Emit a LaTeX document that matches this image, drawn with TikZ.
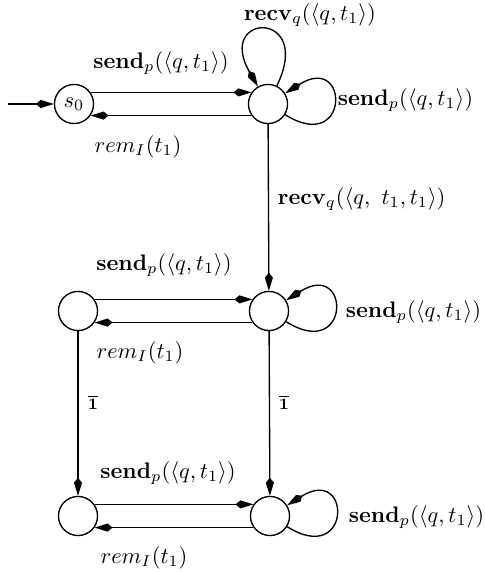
\documentclass[tikz,border=0pt]{standalone}
\usetikzlibrary{arrows.meta}
\tikzstyle{nd}=[circle,draw=black,line width=.6pt,minimum size=17.4pt,inner sep=1pt]
\tikzstyle{tr}=[-{Kite[length=8pt,width=3.6pt,inset=2.2pt]},line width=.6pt]

\begin{document}
\begin{tikzpicture}[x=.445pt,y=.445pt]
\useasboundingbox (0,0) rectangle (484,572);
\node[nd] (s0) at (74,468) {$s_0$};
\node[nd] (q1) at (268,468) {};
\node[nd] (q2) at (78,261) {};
\node[nd] (q3) at (269,261) {};
\node[nd] (q4) at (78,56) {};
\node[nd] (q5) at (270,56) {};
\coordinate (init) at (8,468);
\draw[tr] (init) -- (s0);
\draw[tr] (s0.35) -- (q1.145);
\draw[tr] (q1.-145) -- (s0.-35);
\draw[tr] (q1) to[out=64,in=120,min distance=38pt] (q1);
\draw[tr] (q1) to[out=-32,in=32,min distance=34pt] (q1);
\draw[tr] (q1) -- (q3);
\draw[tr] (q2.35) -- (q3.145);
\draw[tr] (q3.-145) -- (q2.-35);
\draw[tr] (q3) to[out=-32,in=32,min distance=34pt] (q3);
\draw[tr] (q2) -- (q4);
\draw[tr] (q3) -- (q5);
\draw[tr] (q4.35) -- (q5.145);
\draw[tr] (q5.-145) -- (q4.-35);
\draw[tr] (q5) to[out=-32,in=32,min distance=34pt] (q5);
\draw (161,509) node (snd1) {$\mathbf{send}_p(\langle q,t_1\rangle)$};
\draw (310,557) node (rcv1) {$\mathbf{recv}_q(\langle q,t_1\rangle)$};
\draw (330,472) node[anchor=west] (lp1) {$\mathbf{send}_p(\langle q,t_1\rangle)$};
\draw (138,425) node (rem1) {$rem_I(t_1)$};
\draw (270,373) node[anchor=west] (rcv2) {$\mathbf{recv}_q(\langle q,\ t_1,t_1\rangle)$};
\draw (164,307) node (snd2) {$\mathbf{send}_p(\langle q,t_1\rangle)$};
\draw (338,260) node[anchor=west] (lp2) {$\mathbf{send}_p(\langle q,t_1\rangle)$};
\draw (140,219) node (rem2) {$rem_I(t_1)$};
\draw (93,170) node (one1) {\scriptsize$\overline{\mathbf{1}}$};
\draw (284,170) node (one2) {\scriptsize$\overline{\mathbf{1}}$};
\draw (168,99) node (snd3) {$\mathbf{send}_p(\langle q,t_1\rangle)$};
\draw (341,55) node[anchor=west] (lp3) {$\mathbf{send}_p(\langle q,t_1\rangle)$};
\draw (144,14) node (rem3) {$rem_I(t_1)$};
\end{tikzpicture}
\end{document}
